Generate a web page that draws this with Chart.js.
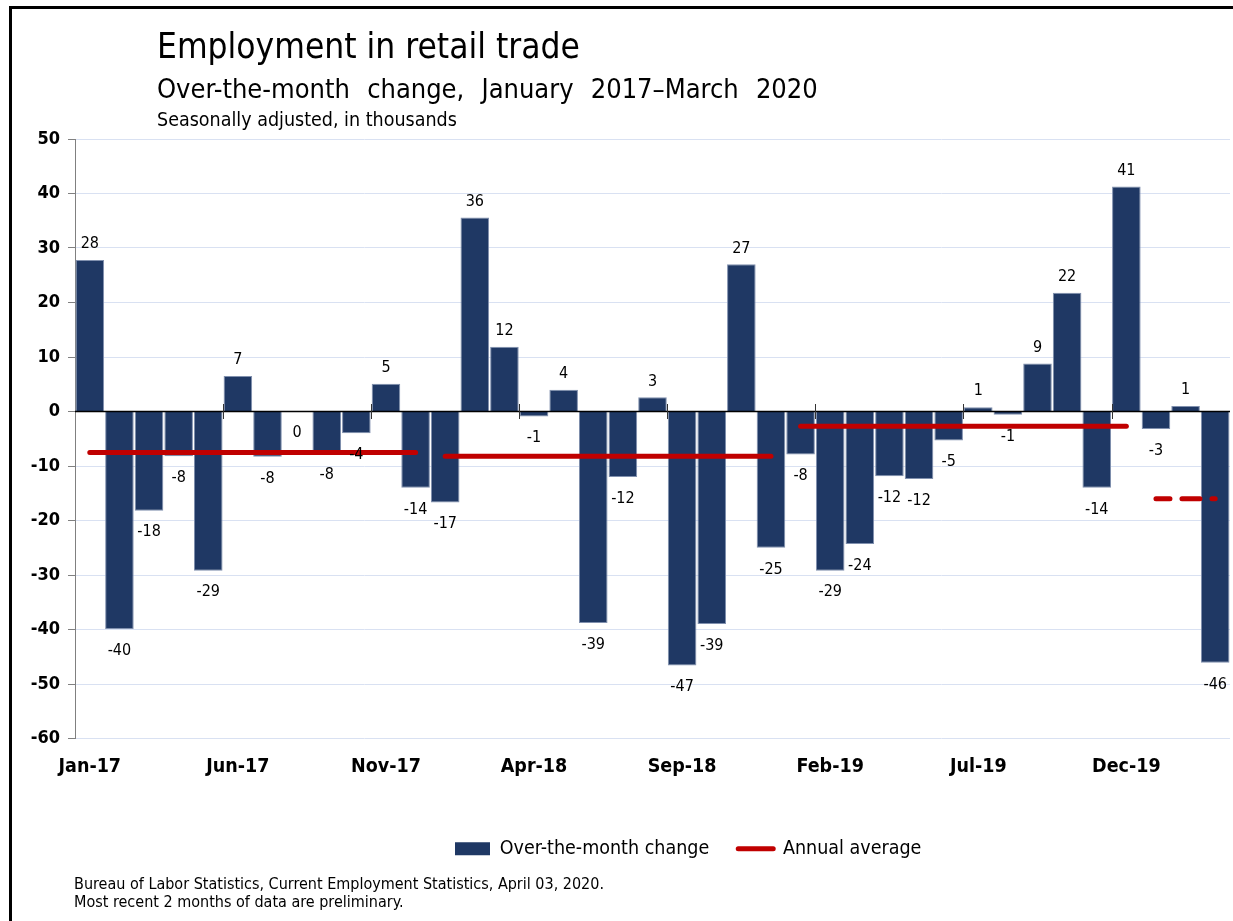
<!DOCTYPE html>
<html><head><meta charset="utf-8">
<script src="https://cdn.jsdelivr.net/npm/chart.js@4.4.1/dist/chart.umd.min.js"></script>
<style>
html,body{margin:0;padding:0;background:#fff;}
body{width:1233px;height:921px;position:relative;overflow:hidden;font-family:'DejaVu Sans Condensed','DejaVu Sans',sans-serif;color:#000;}
#frame{position:absolute;left:9px;top:6px;width:1300px;height:1000px;border-left:3px solid #000;border-top:3px solid #000;}
#wrap{position:absolute;left:0;top:0;width:1233px;height:921px;}
.t{position:absolute;left:157px;white-space:nowrap;line-height:1;}
#t1{top:29px;font-size:35px;}
#t2{top:75px;font-size:27px;word-spacing:9.5px;}
#t3{top:110px;font-size:19.5px;}
#foot{position:absolute;left:74px;top:875px;font-size:16px;line-height:18px;white-space:nowrap;}
</style></head>
<body>
<div id="frame"></div>
<div id="wrap"><canvas id="c" width="1233" height="921"></canvas></div>
<div class="t" id="t1">Employment in retail trade</div>
<div class="t" id="t2">Over-the-month change, January 2017–March 2020</div>
<div class="t" id="t3">Seasonally adjusted, in thousands</div>
<div id="foot">Bureau of Labor Statistics, Current Employment Statistics, April 03, 2020.<br>Most recent 2 months of data are preliminary.</div>
<script>
const months = [
  'Jan-17','Feb-17','Mar-17','Apr-17','May-17','Jun-17','Jul-17','Aug-17','Sep-17','Oct-17','Nov-17','Dec-17',
  'Jan-18','Feb-18','Mar-18','Apr-18','May-18','Jun-18','Jul-18','Aug-18','Sep-18','Oct-18','Nov-18','Dec-18',
  'Jan-19','Feb-19','Mar-19','Apr-19','May-19','Jun-19','Jul-19','Aug-19','Sep-19','Oct-19','Nov-19','Dec-19',
  'Jan-20','Feb-20','Mar-20'
];
const overTheMonthChange = [
  27.8, -39.9, -18.2, -8.2, -29.2, 6.5, -8.3, 0, -7.6, -4.0, 5.1, -14.0,
  -16.7, 35.6, 11.9, -0.9, 4.0, -38.8, -12.0, 2.6, -46.6, -39.0, 27.0, -25.0,
  -7.9, -29.2, -24.3, -11.9, -12.4, -5.3, 0.8, -0.6, 8.8, 21.8, -14.0, 41.3,
  -3.2, 1.0, -46.1
];
const annualAverage = [
  -7.5, -7.5, -7.5, -7.5, -7.5, -7.5, -7.5, -7.5, -7.5, -7.5, -7.5, -7.5,
  -8.2, -8.2, -8.2, -8.2, -8.2, -8.2, -8.2, -8.2, -8.2, -8.2, -8.2, -8.2,
  -2.7, -2.7, -2.7, -2.7, -2.7, -2.7, -2.7, -2.7, -2.7, -2.7, -2.7, -2.7,
  -16.0, -16.0, -16.0
];
const yTicks = [50, 40, 30, 20, 10, 0, -10, -20, -30, -40, -50, -60];
const xTickLabels = ['Jan-17','Jun-17','Nov-17','Apr-18','Sep-18','Feb-19','Jul-19','Dec-19'];

const BLUE = '#1f3864', RED = '#c00000';
const FAM = "'DejaVu Sans Condensed', 'DejaVu Sans', sans-serif";
const LEG_PAD = 29;

const decor = {
  id: 'decor',
  afterLayout(chart) {
    const lg = chart.legend;
    if (lg) { const d = 455 - LEG_PAD - lg.left; lg.left += d; lg.right += d; }
  },
  afterDatasetsDraw(chart) {
    const {ctx, chartArea: a, scales: {x, y}} = chart;
    const y0 = y.getPixelForValue(0);
    ctx.save();
    ctx.strokeStyle = '#000'; ctx.lineWidth = 1.5;
    ctx.beginPath(); ctx.moveTo(a.left, y0); ctx.lineTo(a.right, y0); ctx.stroke();
    const half = (x.getPixelForValue(1) - x.getPixelForValue(0)) / 2;
    ctx.lineWidth = 1; ctx.strokeStyle = '#333';
    ctx.beginPath();
    for (let i = 5; i < months.length; i += 5) {
      const px = Math.round(x.getPixelForValue(i) - half) + 0.5;
      ctx.moveTo(px, y0 - 7.5); ctx.lineTo(px, y0 + 7.5);
    }
    ctx.stroke();
    const meta = chart.getDatasetMeta(0);
    ctx.font = '16px ' + FAM; ctx.fillStyle = '#000';
    ctx.textAlign = 'center'; ctx.textBaseline = 'alphabetic';
    meta.data.forEach((el, i) => {
      const v = overTheMonthChange[i];
      const txt = String(Math.round(v));
      const yy = v > 0 ? Math.min(el.y, el.base) - 11.7 : Math.max(el.y, el.base) + 25.8;
      ctx.fillText(txt, el.x, yy);
    });
    ctx.restore();
  }
};

new Chart(document.getElementById('c'), {
  data: {
    labels: months,
    datasets: [
      {
        type: 'bar', label: 'Over-the-month change', data: overTheMonthChange,
        backgroundColor: BLUE, borderColor: '#8090ae', borderWidth: 1,
        categoryPercentage: 1, barPercentage: 0.965, order: 2
      },
      {
        type: 'line', label: 'Annual average', data: annualAverage,
        borderColor: RED, borderWidth: 5, borderCapStyle: 'round', pointRadius: 0, tension: 0, order: 1,
        segment: {
          borderColor: c => Math.floor(c.p0DataIndex / 12) !== Math.floor(c.p1DataIndex / 12) ? 'rgba(0,0,0,0)' : RED,
          borderDash: c => c.p0DataIndex >= 36 ? [18, 12] : [],
          borderDashOffset: c => c.p0DataIndex >= 36 ? 4 : 0
        }
      }
    ]
  },
  options: {
    responsive: false, animation: false, devicePixelRatio: 1,
    layout: {padding: {left: 0, right: 3, top: 139, bottom: 52.5}},
    scales: {
      x: {
        type: 'category', offset: true,
        grid: {display: false, drawTicks: false},
        border: {display: false},
        ticks: {
          autoSkip: false, maxRotation: 0, minRotation: 0, padding: 17,
          color: '#000', font: {family: FAM, size: 19.5, weight: 'bold'},
          callback: (v, i) => xTickLabels.includes(months[i]) ? months[i] : ''
        },
        afterFit: s => { s.height = 71.5; }
      },
      y: {
        min: -60, max: 50,
        afterBuildTicks: s => { s.ticks = yTicks.map(v => ({value: v})); },
        grid: {color: '#d9e1f2', lineWidth: 1, tickColor: '#808080', tickLength: 7, drawTicks: true},
        border: {display: true, color: '#808080', width: 1},
        ticks: {padding: 8, color: '#000', font: {family: FAM, size: 18, weight: 'bold'}},
        afterFit: s => { s.width = 75; }
      }
    },
    plugins: {
      tooltip: {enabled: false},
      legend: {
        position: 'bottom', align: 'start',
        labels: {
          usePointStyle: true, pointStyleWidth: 35, boxHeight: 13, padding: LEG_PAD,
          color: '#000', font: {family: FAM, size: 19.5},
          generateLabels: () => [
            {text: 'Over-the-month change', fillStyle: BLUE, strokeStyle: BLUE, lineWidth: 0, pointStyle: 'rect', hidden: false, datasetIndex: 0},
            {text: 'Annual average', fillStyle: RED, strokeStyle: RED, lineWidth: 5, lineCap: 'round', pointStyle: 'line', hidden: false, datasetIndex: 1}
          ]
        }
      }
    }
  },
  plugins: [decor]
});
</script>
</body></html>
